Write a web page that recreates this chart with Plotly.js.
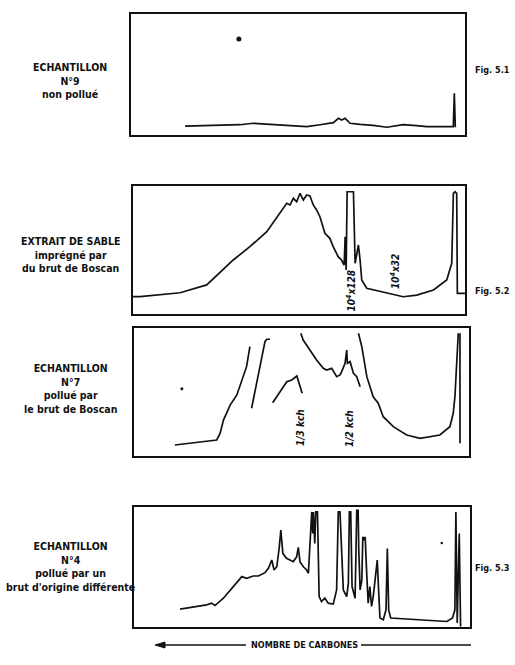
<!DOCTYPE html>
<html><head><meta charset="utf-8">
<script src="https://cdn.plot.ly/plotly-3.0.1.min.js"></script>
<style>body{margin:0;background:#fff}#c{width:515px;height:665px}</style>
</head><body><div id="c"></div>
<script>
// Fig 5.1 - Echantillon N°9 (relative retention, relative response)
const p1x = [16.2,24.6,32.6,36.6,42.6,48.6,52.6,56.6,60.6,62.1,63.1,64.1,65.6,68.6,72.5,76.6,79.6,81.5,85.5,88.5,92.5,96.5,96.8,97.1];
const p1y = [7.4,7.7,8.5,9.7,8.8,7.4,6.9,8.5,10.2,13.8,12.4,13.8,9.7,8.8,8.0,6.4,7.4,8.5,7.7,6.9,6.9,6.9,34.5,6.4];
// Fig 5.2 - Extrait de sable
const p2x = [0,2.1,14.2,22.2,30.2,35.2,40.3,44.3,46.3,47.3,48.3,49.3,50.3,51.3,52.3,53.3,54.3,55.3,56.3,57.8,59.3,60.3,61.8,62.8,63.6,63.9,64.2,64.5,66.4,66.9,67.4,67.9,68.4,68.9,70.4,72.4,76.4,81.4,85.5,90.5,94.5,96.0,96.5,97.0,97.5,97.7,100];
const p2y = [13.5,13.5,16.6,22.7,42.2,52.6,64.3,78.7,86.5,85.2,90.4,87.7,94.3,89.1,93.0,92.2,85.2,81.3,76.0,63.0,59.1,52.6,44.8,42.2,38.3,60.4,34.4,95.5,95.5,39.6,46.1,53.9,42.2,26.6,20.1,18.8,16.6,13.5,14.8,18.8,26.6,39.6,94.3,95.5,94.3,16.1,16.1];
// Fig 5.2 - Echantillon N°7 (broken trace, null = pen lifted)
const p3x = [12.2,24.7,25.7,26.7,28.7,30.7,33.6,34.6,null,
  35.1,37.1,39.1,39.6,40.6,null,
  41.4,43.6,45.6,47.1,48.1,48.6,49.6,50.2,null,
  49.8,50.5,52.5,54.5,56.5,57.5,59.0,60.5,61.5,62.0,63.0,63.5,63.7,64.5,65.5,66.5,67.5,null,
  67.0,68.0,69.5,71.4,72.9,74.4,77.4,81.4,85.4,91.3,94.3,95.3,95.8,96.5,96.8,null,
  97.3,97.3];
const p3y = [8.6,12.5,17.7,28.1,39.8,47.7,69.8,85.4,null,
  37.3,64.6,89.3,91.2,91.2,null,
  41.6,50.2,58.0,59.4,62.0,62.5,54.1,49.0,null,
  95.9,90.6,82.8,75.0,68.5,67.2,68.5,62.0,63.3,65.9,72.4,82.8,72.4,73.7,64.6,62.0,54.1,null,
  95.9,85.4,62.0,46.3,41.2,30.7,22.9,16.4,13.8,16.4,22.9,33.4,46.3,82.8,95.9,null,
  95.9,9.9];
// Fig 5.3 - Echantillon N°4
const p4x = [13.7,17.6,21.6,23.1,24.1,26.6,29.6,32.1,33.5,35.5,37.0,39.0,40.0,41.0,41.7,42.5,43.2,43.7,44.3,45.4,47.4,48.4,48.9,49.4,50.4,51.4,51.9,52.4,52.7,52.9,53.2,53.4,53.8,54.1,54.6,55.1,55.8,56.8,57.8,59.3,60.3,60.8,61.3,61.8,62.3,63.3,63.8,64.1,64.5,64.9,65.8,66.3,66.7,66.9,67.3,67.8,68.1,68.5,68.8,69.3,69.7,70.2,70.7,71.2,72.0,72.4,72.8,73.2,74.2,75.0,75.4,75.8,76.4,81.2,87.1,93.1,94.8,95.5,95.8,96.2,96.8,97.2];
const p4y = [14.9,16.6,18.5,19.9,17.9,24.0,33.7,42.0,40.6,42.5,42.5,45.3,48.9,55.8,47.5,50.2,65.5,80.7,61.4,57.2,54.4,58.5,66.3,54.4,50.2,47.5,44.8,72.4,83.4,95.9,77.9,95.9,69.7,95.9,95.9,25.4,21.2,24.0,19.9,19.1,30.9,95.9,95.9,66.8,30.9,25.4,36.5,95.9,95.9,33.7,24.0,97.3,97.3,64.1,30.9,39.2,75.1,72.4,75.1,42.0,19.9,33.7,17.1,25.4,44.8,55.8,30.9,7.5,6.1,14.3,65.5,14.3,7.5,6.6,5.5,4.6,7.5,14.3,95.9,3.3,77.9,0.5];

const sampleLabels = [
  "ECHANTILLON<br>N°9<br>non pollué",
  "EXTRAIT DE SABLE<br>imprégné par<br>du brut de Boscan",
  "ECHANTILLON<br>N°7<br>pollué par<br>le brut de Boscan",
  "ECHANTILLON<br>N°4<br>pollué par un<br>brut d'origine différente"
];
const figLabels = ["Fig. 5.1","Fig. 5.2","Fig. 5.3"];
const peakNotes = ["10<sup>4</sup>x128","10<sup>4</sup>x32","1/3 kch","1/2 kch"];
const axisLabel = "NOMBRE DE CARBONES";

const W=515,H=665;
const px = v=>v/W, py = v=>1-v/H;
const FONT='"DejaVu Sans Condensed","Liberation Sans Narrow","Liberation Sans",sans-serif';
const boxes = [[131,465,14,135],[133,465,186,314],[134,469,328,456],[134,470,507,627]];
const line = {color:'#111',width:1.7};
const traces = [
  {x:p1x,y:p1y,xaxis:'x',yaxis:'y'},
  {x:p2x,y:p2y,xaxis:'x2',yaxis:'y2'},
  {x:p3x,y:p3y,xaxis:'x3',yaxis:'y3'},
  {x:p4x,y:p4y,xaxis:'x4',yaxis:'y4'}
].map(t=>Object.assign(t,{type:'scatter',mode:'lines',line:line,connectgaps:false,hoverinfo:'skip'}));
// stray dots on the scan
traces.push({type:'scatter',mode:'markers',x:[32.3],y:[79.3],xaxis:'x',yaxis:'y',marker:{color:'#111',size:5}});
traces.push({type:'scatter',mode:'markers',x:[14.3],y:[52.6],xaxis:'x3',yaxis:'y3',marker:{color:'#111',size:3}});
traces.push({type:'scatter',mode:'markers',x:[91.6],y:[70.0],xaxis:'x4',yaxis:'y4',marker:{color:'#111',size:2.5}});

const layout = {width:W,height:H,margin:{l:0,r:0,t:0,b:0},showlegend:false,
  paper_bgcolor:'#fff',plot_bgcolor:'#fff',
  font:{family:FONT,color:'#111'},
  annotations:[],shapes:[]};
boxes.forEach((b,i)=>{
  const s=i===0?'':String(i+1);
  const ax={showgrid:false,zeroline:false,showticklabels:false,ticks:'',showline:true,mirror:true,linecolor:'#111',linewidth:2,fixedrange:true};
  layout['xaxis'+s]=Object.assign({},ax,{domain:[px(b[0]),px(b[1])],range:[0,100],anchor:'y'+s});
  layout['yaxis'+s]=Object.assign({},ax,{domain:[py(b[3]),py(b[2])],range:[0,100],anchor:'x'+s});
});
const labY=[81,255,388,566];
sampleLabels.forEach((t,i)=>layout.annotations.push({xref:'paper',yref:'paper',x:px(70),y:py(labY[i]),text:'<b>'+t+'</b>',showarrow:false,
  font:{size:10.5,family:FONT},align:'center',xanchor:'center',yanchor:'middle'}));
const figY=[70,291,568];
figLabels.forEach((t,i)=>layout.annotations.push({xref:'paper',yref:'paper',x:px(492),y:py(figY[i]),text:'<b>'+t+'</b>',showarrow:false,font:{size:9},xanchor:'center',yanchor:'middle'}));
const notePos=[[350.5,291],[395,272],[300,428],[349,429]];
peakNotes.forEach((t,i)=>layout.annotations.push({xref:'paper',yref:'paper',x:px(notePos[i][0]),y:py(notePos[i][1]),text:'<b><i>'+t+'</i></b>',showarrow:false,textangle:-90,font:{size:10},xanchor:'center',yanchor:'middle'}));
layout.annotations.push({xref:'paper',yref:'paper',x:px(304),y:py(645),text:'<b>'+axisLabel+'</b>',showarrow:false,font:{size:9},xanchor:'center',yanchor:'middle'});
// arrow lines
layout.shapes.push({type:'line',xref:'paper',yref:'paper',x0:px(160),x1:px(246),y0:py(645),y1:py(645),line:{color:'#111',width:1.3}});
layout.shapes.push({type:'line',xref:'paper',yref:'paper',x0:px(361),x1:px(471),y0:py(645),y1:py(645),line:{color:'#111',width:1.3}});
layout.shapes.push({type:'path',xref:'paper',yref:'paper',
  path:`M ${px(155)} ${py(645)} L ${px(165)} ${py(642)} L ${px(165)} ${py(648)} Z`,fillcolor:'#111',line:{color:'#111',width:1}});
Plotly.newPlot('c',traces,layout,{staticPlot:true});
</script></body></html>
